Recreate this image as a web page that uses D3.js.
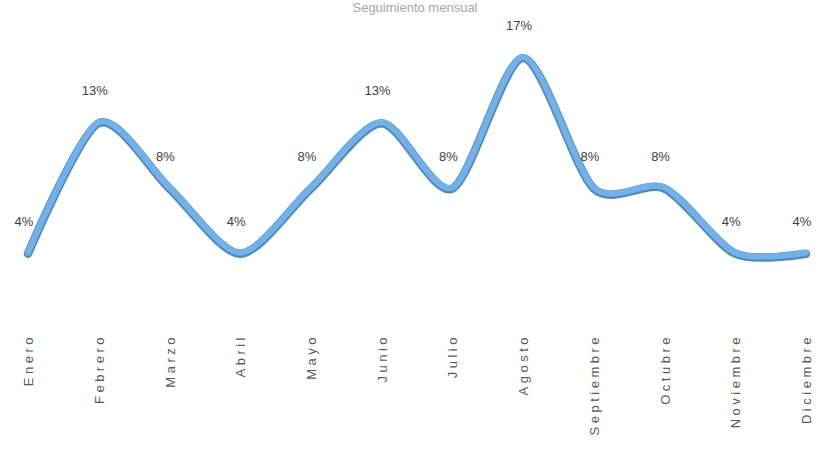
<!DOCTYPE html>
<html>
<head>
<meta charset="utf-8">
<script src="https://cdn.jsdelivr.net/npm/d3@7"></script>
<style>
  html, body { margin: 0; padding: 0; background: #ffffff; }
  svg { display: block; }
</style>
</head>
<body>
<svg id="chart"></svg>
<script>
// months (x categories)
var months = ['Enero', 'Febrero', 'Marzo', 'Abril', 'Mayo', 'Junio',
              'Julio', 'Agosto', 'Septiembre', 'Octubre', 'Noviembre', 'Diciembre'];
// share per month, in percent
var shares = [4.17, 12.5, 8.33, 4.17, 8.33, 12.5, 8.33, 16.67, 8.33, 8.33, 4.17, 4.17];
var title = 'Seguimiento mensual';

var width = 821,
    height = 465;

var svg = d3.select('#chart')
    .attr('width', width)
    .attr('height', height);

var x = d3.scalePoint()
    .domain(months)
    .range([28, 806]);

var y = d3.scaleLinear()
    .domain([0, 20])
    .range([318, 4.8]);

var data = months.map(function(m, i) { return {month: m, val: shares[i]}; });

// title (pale, squeezed into the top strip)
svg.append('text')
    .attr('x', 415)
    .attr('y', 12)
    .attr('text-anchor', 'middle')
    .attr('font-family', 'Liberation Sans, Arial, sans-serif')
    .attr('font-size', 13)
    .attr('fill', '#a6a6a6')
    .text(title);

var line = d3.line()
    .x(function(d) { return x(d.month); })
    .y(function(d) { return y(d.val); })
    .curve(d3.curveCardinal.tension(0.2));

// darker edge under the line
svg.append('path')
    .datum(data)
    .attr('d', line)
    .attr('fill', 'none')
    .attr('stroke', '#5289bb')
    .attr('stroke-width', 8.5)
    .attr('stroke-linecap', 'round')
    .attr('transform', 'translate(0,1)');

svg.append('path')
    .datum(data)
    .attr('d', line)
    .attr('fill', 'none')
    .attr('stroke', '#72b2e8')
    .attr('stroke-width', 6)
    .attr('stroke-linecap', 'round');

// data labels
svg.append('g')
    .selectAll('text')
    .data(data)
    .join('text')
    .attr('x', function(d) { return x(d.month) - 4; })
    .attr('y', function(d) { return y(d.val) - 27; })
    .attr('text-anchor', 'middle')
    .attr('font-family', 'Liberation Sans, Arial, sans-serif')
    .attr('font-size', 13)
    .attr('fill', '#404040')
    .text(function(d) { return Math.round(d.val) + '%'; });

// x axis labels, rotated
var xAxis = d3.axisBottom(x).tickSize(0).tickPadding(0);
var gx = svg.append('g')
    .attr('transform', 'translate(0,334)')
    .call(xAxis);
gx.select('.domain').remove();
gx.selectAll('text')
    .attr('transform', 'rotate(-90)')
    .attr('x', 0)
    .attr('y', 0)
    .attr('dy', '0.35em')
    .attr('text-anchor', 'end')
    .attr('font-family', 'Liberation Sans, Arial, sans-serif')
    .attr('font-size', 13)
    .attr('letter-spacing', 3.5)
    .attr('fill', '#595959');
</script>
</body>
</html>
